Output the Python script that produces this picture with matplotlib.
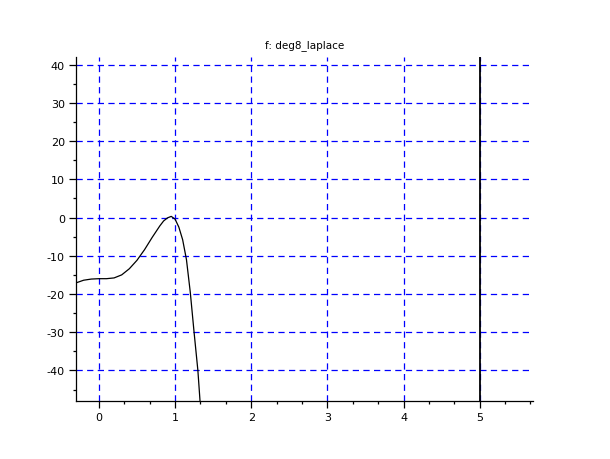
import matplotlib
matplotlib.use("Agg")
import matplotlib.pyplot as plt
from matplotlib.ticker import MultipleLocator, AutoMinorLocator

plt.rcParams["axes.unicode_minus"] = False

# curve
x_vals = [-0.3, -0.2, -0.1, 0.0, 0.1, 0.2, 0.3, 0.4, 0.5, 0.6, 0.7, 0.8,
          0.85, 0.9, 0.95, 1.0, 1.05, 1.1, 1.15, 1.2, 1.25, 1.3, 1.33]
y_vals = [-17.1, -16.4, -16.1, -16.0, -16.0, -15.8, -15.0, -13.4, -11.2, -8.4,
          -5.2, -2.2, -0.9, -0.1, 0.3, -0.4, -2.5, -5.8, -11.0, -19.5, -30.0,
          -40.0, -48.5]

# vertical black line at x = 5
vline_x = [5, 5]
vline_y = [-1000, 1000]

title = "f: deg8_laplace"

fig = plt.figure(figsize=(6.1, 4.6), dpi=100)
ax = fig.add_axes([0.1246, 0.1261, 0.7492, 0.7478])

ax.plot(x_vals, y_vals, color="black", lw=0.9, zorder=3)
ax.plot(vline_x, vline_y, color="black", lw=1.3, zorder=3)

ax.set_xlim(-0.3, 5.7)
ax.set_ylim(-48, 42)

ax.xaxis.set_major_locator(MultipleLocator(1))
ax.xaxis.set_minor_locator(AutoMinorLocator(3))
ax.yaxis.set_major_locator(MultipleLocator(10))
ax.yaxis.set_minor_locator(AutoMinorLocator(2))

ax.grid(True, which="major", color="blue", linestyle=(0, (5, 3.5)), lw=0.9)

for side in ["top", "right"]:
    ax.spines[side].set_visible(False)
for side in ["left", "bottom"]:
    ax.spines[side].set_linewidth(0.9)

ax.tick_params(which="major", direction="out", length=5, width=0.9,
               labelsize=8, pad=3)
ax.tick_params(which="minor", direction="out", length=2.5, width=0.9)

ax.set_title(title, fontsize=7.5, pad=7)

fig.savefig("out.png", dpi=100)
plt.close()
